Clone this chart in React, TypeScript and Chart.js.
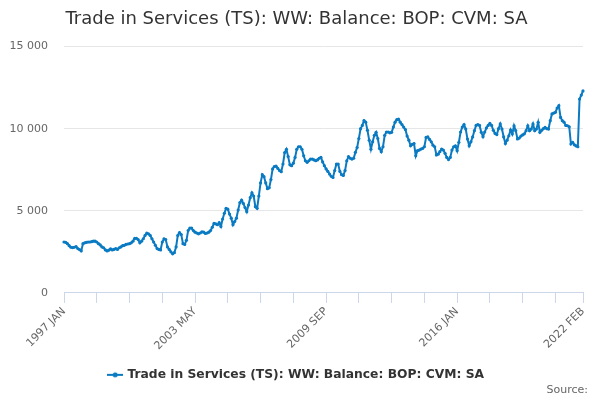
import { useEffect, useRef } from 'react'
import Chart from 'chart.js/auto'

const MONTH_NAMES = ['JAN', 'FEB', 'MAR', 'APR', 'MAY', 'JUN', 'JUL', 'AUG', 'SEP', 'OCT', 'NOV', 'DEC']

// 1997 JAN .. 2022 FEB
const monthLabels: string[] = []
for (let y = 1997; y <= 2022; y++) {
  for (let m = 0; m < 12; m++) {
    if (y === 2022 && m > 1) break
    monthLabels.push(`${y} ${MONTH_NAMES[m]}`)
  }
}

const labeledMonths = ['1997 JAN', '2003 MAY', '2009 SEP', '2016 JAN', '2022 FEB']

// £ million
const balance: number[] = [
  3100, 3080, 3000, 2880, 2780, 2760, 2780, 2820, 2700, 2640,
  2560, 3000, 3050, 3080, 3100, 3100, 3120, 3150, 3150, 3100,
  3000, 2920, 2800, 2750, 2620, 2560, 2600, 2680, 2620, 2650,
  2700, 2650, 2750, 2800, 2880, 2900, 2960, 2980, 3000, 3050,
  3150, 3320, 3330, 3250, 3050, 3150, 3300, 3500, 3640, 3600,
  3500, 3300, 3100, 2900, 2700, 2650, 2620, 3100, 3300, 3250,
  2800, 2650, 2500, 2380, 2450, 2800, 3500, 3680, 3550, 3000,
  2950, 3200, 3800, 3950, 3950, 3800, 3700, 3650, 3600, 3650,
  3720, 3700, 3620, 3650, 3700, 3800, 4000, 4230, 4200, 4150,
  4280, 4050, 4500, 4850, 5150, 5100, 4800, 4550, 4150, 4350,
  4550, 5050, 5500, 5650, 5450, 5200, 4950, 5350, 5800, 6100,
  5900, 5250, 5150, 5900, 6700, 7200, 7080, 6700, 6350, 6400,
  6900, 7550, 7700, 7720, 7580, 7450, 7380, 7850, 8550, 8750,
  8300, 7800, 7750, 7900, 8250, 8750, 8900, 8900, 8750, 8350,
  8050, 7950, 8050, 8150, 8150, 8100, 8050, 8100, 8200, 8250,
  7980, 7750, 7550, 7400, 7240, 7100, 7030, 7450, 7850, 7850,
  7400, 7200, 7150, 7450, 8050, 8300, 8200, 8150, 8200, 8560,
  8850, 9400, 10000, 10200, 10500, 10400, 9900, 9300, 8750, 9200,
  9600, 9780, 9400, 8800, 8600, 8900, 9600, 9800, 9800, 9750,
  9780, 10100, 10400, 10550, 10580, 10400, 10250, 10100, 9950, 9550,
  9300, 8960, 9050, 9100, 8350, 8660, 8700, 8760, 8800, 8900,
  9470, 9500, 9350, 9200, 9000, 8900, 8400, 8450, 8600, 8760,
  8700, 8500, 8250, 8120, 8250, 8700, 8900, 8950, 8660, 9170,
  9800, 10100, 10250, 9980, 9370, 8960, 9200, 9500, 9880, 10200,
  10250, 10200, 9780, 9510, 9800, 10050, 10200, 10320, 10200, 9900,
  9710, 9640, 10000, 10290, 9980, 9500, 9100, 9300, 9570, 9920,
  9680, 10180, 9880, 9380, 9430, 9550, 9620, 9690, 9880, 10180,
  9880, 9980, 10290, 9880, 9980, 10390, 9780, 9900, 10000, 10080,
  10000, 9980, 10490, 10900, 10950, 11000, 11260, 11400, 10690, 10490,
  10400, 10200, 10180, 10120, 9070, 9170, 9020, 8950, 8900, 11810,
  12050, 12300,
]

const TICK_EVERY = 19
const LINE_COLOR = '#0a7bc2'
const FONT = '"DejaVu Sans", Verdana, sans-serif'

function fmtThousands(v: number): string {
  return String(v).replace(/\B(?=(\d{3})+(?!\d))/g, ' ')
}

function legendSymbol(): HTMLCanvasElement {
  const c = document.createElement('canvas')
  c.width = 16
  c.height = 8
  const ctx = c.getContext('2d')!
  ctx.strokeStyle = LINE_COLOR
  ctx.lineWidth = 2
  ctx.beginPath()
  ctx.moveTo(0, 4)
  ctx.lineTo(16, 4)
  ctx.stroke()
  ctx.fillStyle = LINE_COLOR
  ctx.beginPath()
  ctx.arc(8, 4, 2.5, 0, Math.PI * 2)
  ctx.fill()
  return c
}

export default function App() {
  const canvasRef = useRef<HTMLCanvasElement>(null)

  useEffect(() => {
    if (!canvasRef.current) return
    const last = monthLabels.length - 1
    const chart = new Chart(canvasRef.current, {
      type: 'line',
      data: {
        labels: monthLabels,
        datasets: [
          {
            label: 'Trade in Services (TS): WW: Balance: BOP: CVM: SA',
            data: balance,
            borderColor: LINE_COLOR,
            backgroundColor: LINE_COLOR,
            borderWidth: 2,
            pointRadius: 1.6,
            pointBorderWidth: 0,
            tension: 0,
          },
        ],
      },
      options: {
        animation: false,
        responsive: true,
        maintainAspectRatio: false,
        layout: { padding: { left: 10, right: 17, top: 3, bottom: 9 } },
        plugins: {
          tooltip: { enabled: false },
          title: {
            display: true,
            text: 'Trade in Services (TS): WW: Balance: BOP: CVM: SA',
            color: '#333333',
            font: { family: FONT, size: 18, weight: 'normal' },
            padding: { top: 6, bottom: 16 },
          },
          legend: {
            position: 'bottom',
            labels: {
              usePointStyle: true,
              pointStyle: legendSymbol(),
              color: '#333333',
              font: { family: FONT, size: 12.3, weight: 'bold' },
              padding: 14,
            },
          },
        },
        scales: {
          x: {
            type: 'category',
            offset: false,
            afterBuildTicks: (axis: any) => {
              axis.ticks = axis.ticks.filter((t: any) => t.value % TICK_EVERY === 0 || t.value === last)
            },
            afterFit: (axis: any) => {
              axis.paddingLeft = 0
              axis.paddingRight = 0
            },
            ticks: {
              autoSkip: false,
              maxRotation: 45,
              minRotation: 45,
              color: '#666666',
              font: { family: FONT, size: 11 },
              padding: 2,
              callback: function (this: any, value: any) {
                const lbl = this.getLabelForValue(value)
                return labeledMonths.includes(lbl) ? lbl : ''
              },
            },
            grid: { drawOnChartArea: false, drawTicks: true, tickLength: 10, color: '#ccd6eb' },
            border: { display: true, color: '#ccd6eb' },
          },
          y: {
            min: 0,
            max: 15000,
            afterFit: (axis: any) => {
              axis.width = 54
            },
            ticks: {
              stepSize: 5000,
              color: '#666666',
              font: { family: FONT, size: 11 },
              padding: 16,
              callback: (v: any) => fmtThousands(Number(v)),
            },
            grid: { color: '#e6e6e6', drawTicks: false },
            border: { display: false },
          },
        },
      },
    })
    return () => chart.destroy()
  }, [])

  return (
    <div style={{ position: 'fixed', left: 0, top: 0, width: 600, height: 400, background: '#ffffff' }}>
      <canvas ref={canvasRef} />
      <div
        style={{
          position: 'absolute',
          right: 12,
          top: 383,
          fontFamily: FONT,
          fontSize: 11,
          color: '#666666',
          lineHeight: '14px',
        }}
      >
        Source:
      </div>
    </div>
  )
}
